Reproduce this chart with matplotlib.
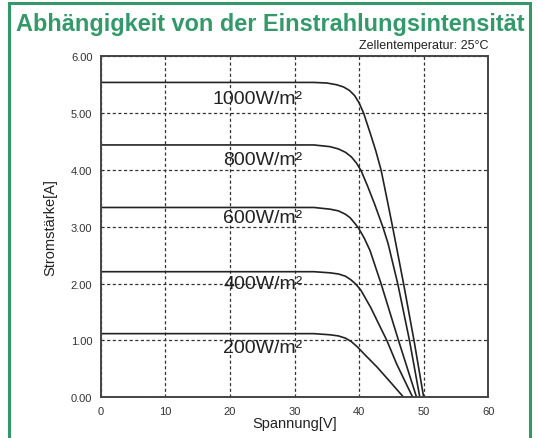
import matplotlib
matplotlib.use('Agg')
import matplotlib.pyplot as plt
from matplotlib.patches import Rectangle

# I-V Kennlinien bei verschiedenen Einstrahlungen
v_1000 = [0, 33.0, 35.0, 36.5, 37.6, 38.5, 39.3, 40.0, 40.7, 41.8, 42.6, 43.4, 44.3, 45.2, 46.9, 48.5, 50.0]
i_1000 = [5.54, 5.54, 5.53, 5.50, 5.46, 5.40, 5.31, 5.18, 5.00, 4.62, 4.33, 4.00, 3.50, 2.99, 1.99, 1.00, 0.0]

v_800 = [0, 33.0, 35.5, 36.8, 37.9, 38.8, 39.6, 40.3, 41.3, 42.4, 43.7, 44.5, 46.0, 47.8, 49.4]
i_800 = [4.44, 4.44, 4.41, 4.37, 4.31, 4.23, 4.12, 3.99, 3.72, 3.40, 2.99, 2.70, 1.99, 1.00, 0.0]

v_600 = [0, 33.0, 35.5, 36.8, 37.9, 38.6, 39.2, 39.9, 40.8, 41.7, 43.4, 46.1, 48.9]
i_600 = [3.34, 3.34, 3.31, 3.28, 3.22, 3.16, 3.08, 2.98, 2.80, 2.58, 2.00, 1.00, 0.0]

v_400 = [0, 33.0, 35.5, 36.8, 37.9, 38.7, 39.5, 40.3, 41.8, 43.3, 44.3, 45.8, 48.3]
i_400 = [2.21, 2.21, 2.19, 2.17, 2.13, 2.07, 1.99, 1.88, 1.58, 1.23, 1.00, 0.59, 0.0]

v_200 = [0, 33.0, 35.5, 36.8, 37.9, 38.8, 39.8, 40.8, 42.8, 44.9, 46.9]
i_200 = [1.12, 1.12, 1.10, 1.08, 1.04, 0.98, 0.88, 0.76, 0.53, 0.26, 0.0]

labels = ['1000W/m²', '800W/m²', '600W/m²', '400W/m²', '200W/m²']
label_y = [5.25, 4.19, 3.17, 2.01, 0.87]

x_ticks = [0, 10, 20, 30, 40, 50, 60]
y_ticks = [0, 1, 2, 3, 4, 5, 6]

green = '#33996a'
dark = '#222222'
font = ['Liberation Sans', 'DejaVu Sans']

fig = plt.figure(figsize=(5.38, 4.39), dpi=100)
ax = fig.add_axes([0.1872, 0.0927, 0.7204, 0.7768])

curves = [(v_1000, i_1000), (v_800, i_800), (v_600, i_600), (v_400, i_400), (v_200, i_200)]
for v, i in curves:
    ax.plot(v, i, color=dark, linewidth=1.2, solid_joinstyle='round')

for lab, y in zip(labels, label_y):
    ax.text(31.2, y, lab, ha='right', va='center', fontsize=14,
            color=dark, family=font)

ax.set_xlim(0, 60)
ax.set_ylim(0, 6)
ax.set_xticks(x_ticks)
ax.set_yticks(y_ticks)
ax.set_yticklabels([f'{t:.2f}' for t in y_ticks])
ax.tick_params(length=0, labelsize=8, colors='#333333', pad=6)
for lab in ax.get_xticklabels() + ax.get_yticklabels():
    lab.set_family(font)
ax.grid(True, color='#333333', linestyle=(0, (2.5, 2)), linewidth=0.9)
for s in ax.spines.values():
    s.set_color('#444444')
    s.set_linewidth(1.4)

ax.set_xlabel('Spannung[V]', fontsize=10.5, color=dark, labelpad=0, family=font)
ax.set_ylabel('Stromstärke[A]', fontsize=10.5, color=dark, labelpad=10, family=font)

fig.text(0.03, 1 - 25 / 439, 'Abhängigkeit von der Einstrahlungsintensität',
         fontsize=16.95, fontweight='bold', color=green, va='center', ha='left',
         family=font)
fig.text(0.9076, 1 - 46 / 439, 'Zellentemperatur: 25°C', fontsize=9,
         color=dark, ha='right', va='center', family=font)

fig.patches.append(Rectangle((9 / 538, -0.05), 521 / 538, 1.05 - 4 / 439,
                             transform=fig.transFigure, fill=False,
                             edgecolor=green, linewidth=2.2))

fig.savefig('out.png', dpi=100)
